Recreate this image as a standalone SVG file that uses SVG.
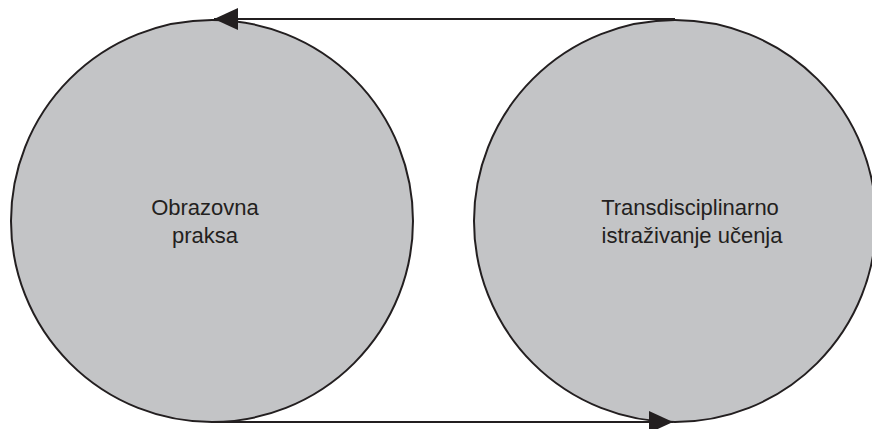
<svg xmlns="http://www.w3.org/2000/svg" width="872" height="429" viewBox="0 0 872 429">
  <style>
    .node circle { fill: #c3c4c6; stroke: #231f20; stroke-width: 2; }
    .label { font-family: "Liberation Sans", Arial, sans-serif; font-size: 22px; fill: #231f20; text-anchor: middle; }
    .edge { stroke: #231f20; stroke-width: 1.8; fill: none; marker-end: url(#arrow); }
  </style>
  <defs>
    <marker id="arrow" markerUnits="userSpaceOnUse" markerWidth="25" markerHeight="24" viewBox="0 0 25 24" refX="24" refY="12" orient="auto">
      <polygon points="0,1 24,12 0,23" fill="#231f20"/>
    </marker>
  </defs>
  <rect width="872" height="429" fill="#ffffff"/>

  <g id="node-obrazovna-praksa" class="node">
    <circle cx="212" cy="221" r="201"/>
    <text class="label" x="205" y="215">Obrazovna</text>
    <text class="label" x="205" y="243">praksa</text>
  </g>

  <g id="node-transdisciplinarno" class="node">
    <circle cx="675" cy="221" r="201"/>
    <text class="label" x="690" y="215">Transdisciplinarno</text>
    <text class="label" x="692" y="243">istraživanje učenja</text>
  </g>

  <g id="connectors">
    <line class="edge" x1="675" y1="19" x2="214" y2="19"/>
    <line class="edge" x1="212" y1="422" x2="673" y2="422"/>
  </g>
</svg>
